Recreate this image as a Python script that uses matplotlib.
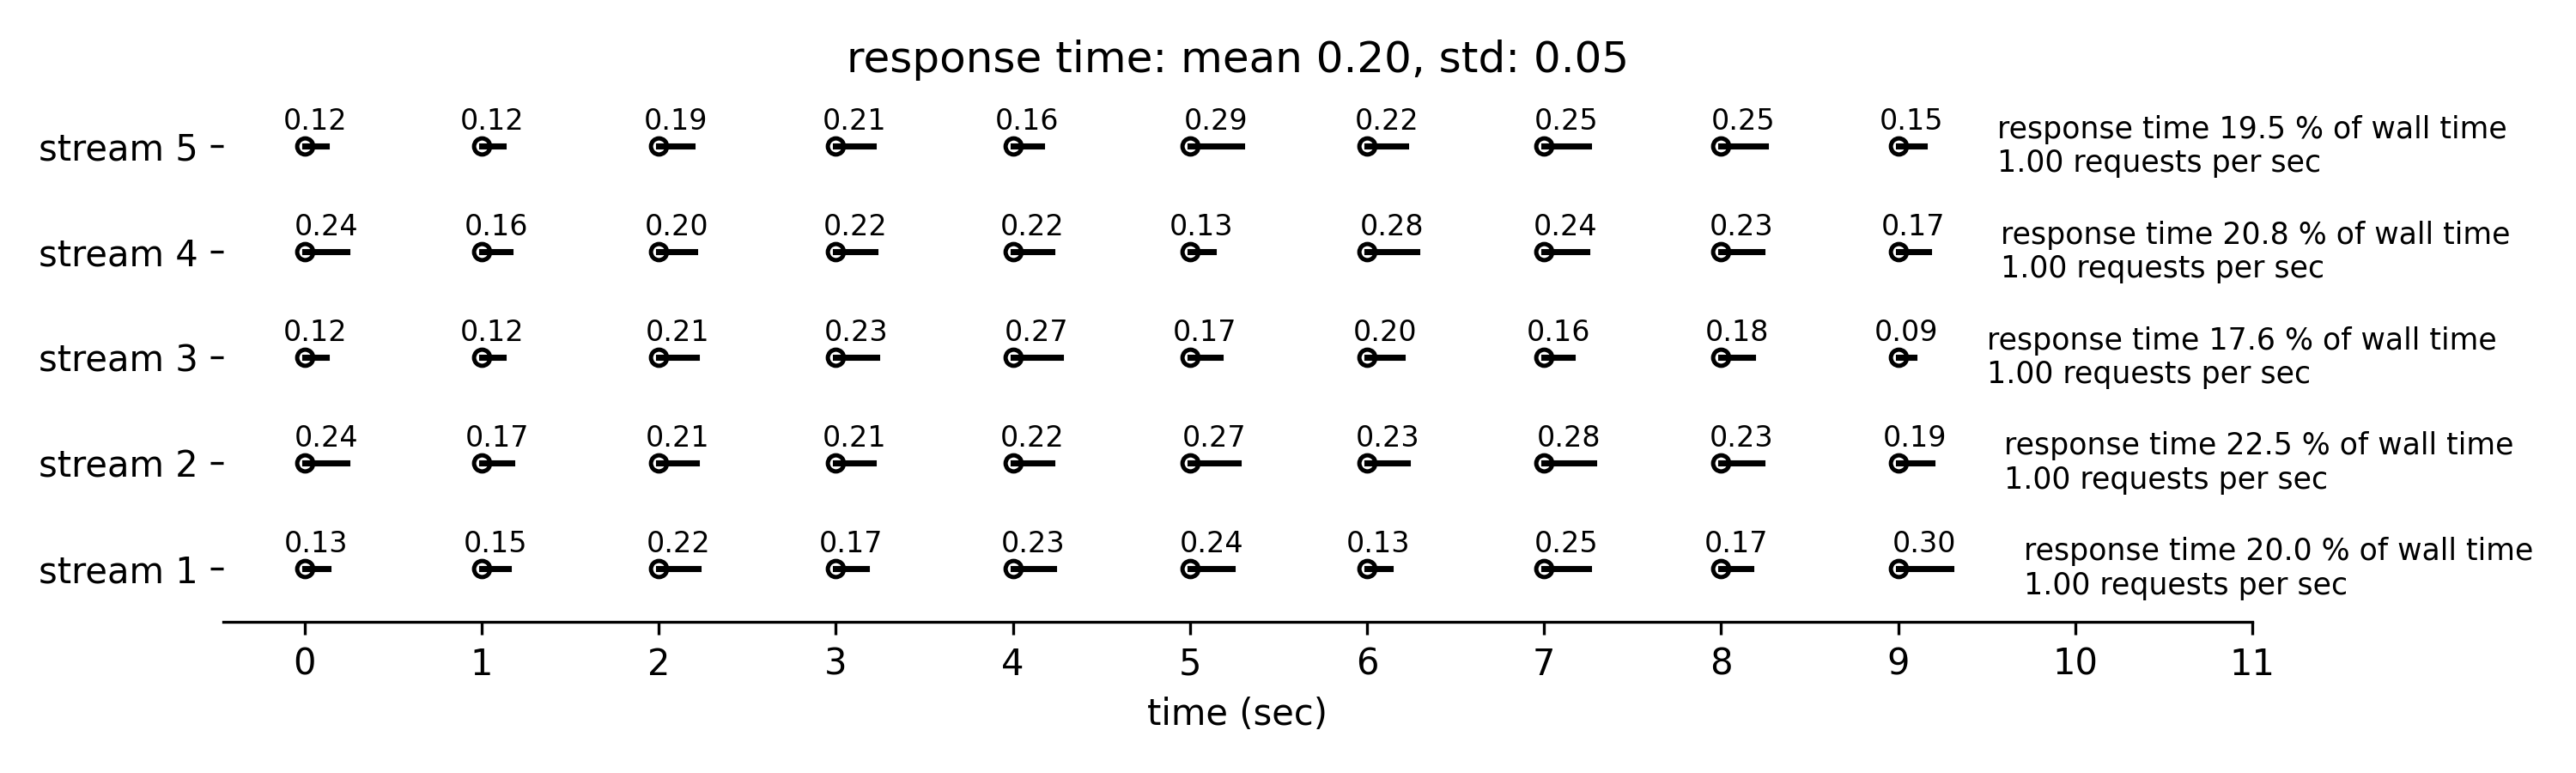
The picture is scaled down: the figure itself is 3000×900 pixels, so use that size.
import numpy as np
import matplotlib
matplotlib.use('Agg')
import matplotlib.pyplot as plt

streams = ['stream 1', 'stream 2', 'stream 3', 'stream 4', 'stream 5']
starts = [0, 1, 2, 3, 4, 5, 6, 7, 8, 9]
resp = {
    'stream 1': [0.13, 0.15, 0.22, 0.17, 0.23, 0.24, 0.13, 0.25, 0.17, 0.30],
    'stream 2': [0.24, 0.17, 0.21, 0.21, 0.22, 0.27, 0.23, 0.28, 0.23, 0.19],
    'stream 3': [0.12, 0.12, 0.21, 0.23, 0.27, 0.17, 0.20, 0.16, 0.18, 0.09],
    'stream 4': [0.24, 0.16, 0.20, 0.22, 0.22, 0.13, 0.28, 0.24, 0.23, 0.17],
    'stream 5': [0.12, 0.12, 0.19, 0.21, 0.16, 0.29, 0.22, 0.25, 0.25, 0.15],
}
pct_wall = [20.0, 22.5, 17.6, 20.8, 19.5]
req_rate = [1.00, 1.00, 1.00, 1.00, 1.00]
title = 'response time: mean 0.20, std: 0.05'

fig, ax = plt.subplots(figsize=(10, 3), dpi=300)

for i, s in enumerate(streams):
    y = i + 1
    rt = resp[s]
    for t, r in zip(starts, rt):
        ax.plot([t, t + r], [y, y], 'k-', lw=1.7)
        ax.plot(t, y, 'o', mec='k', mfc='none', ms=4.5, mew=1.2)
        ax.text(t + r / 2., y + 0.1, '%.2f' % r, ha='center', va='bottom', fontsize=8)
    xend = starts[-1] + rt[-1] + 0.41
    ax.text(xend, y, 'response time %.1f %% of wall time\n%.2f requests per sec' % (pct_wall[i], req_rate[i]),
            ha='left', va='center', fontsize='small')

ax.set_yticks(range(1, len(streams) + 1))
ax.set_yticklabels(streams, fontsize=10)
ax.set_xticks(range(0, 12))
ax.tick_params(axis='x', labelsize=10)
ax.set_xlim(-0.46, 11)
ax.set_ylim(0.5, 5.5)
ax.set_xlabel('time (sec)', fontsize=10)
ax.set_title(title, fontsize=12)
for sp in ['top', 'right', 'left']:
    ax.spines[sp].set_visible(False)

plt.subplots_adjust(left=0.0867, right=0.8743, bottom=0.196, top=0.879)
plt.savefig('out.png', dpi=300)
